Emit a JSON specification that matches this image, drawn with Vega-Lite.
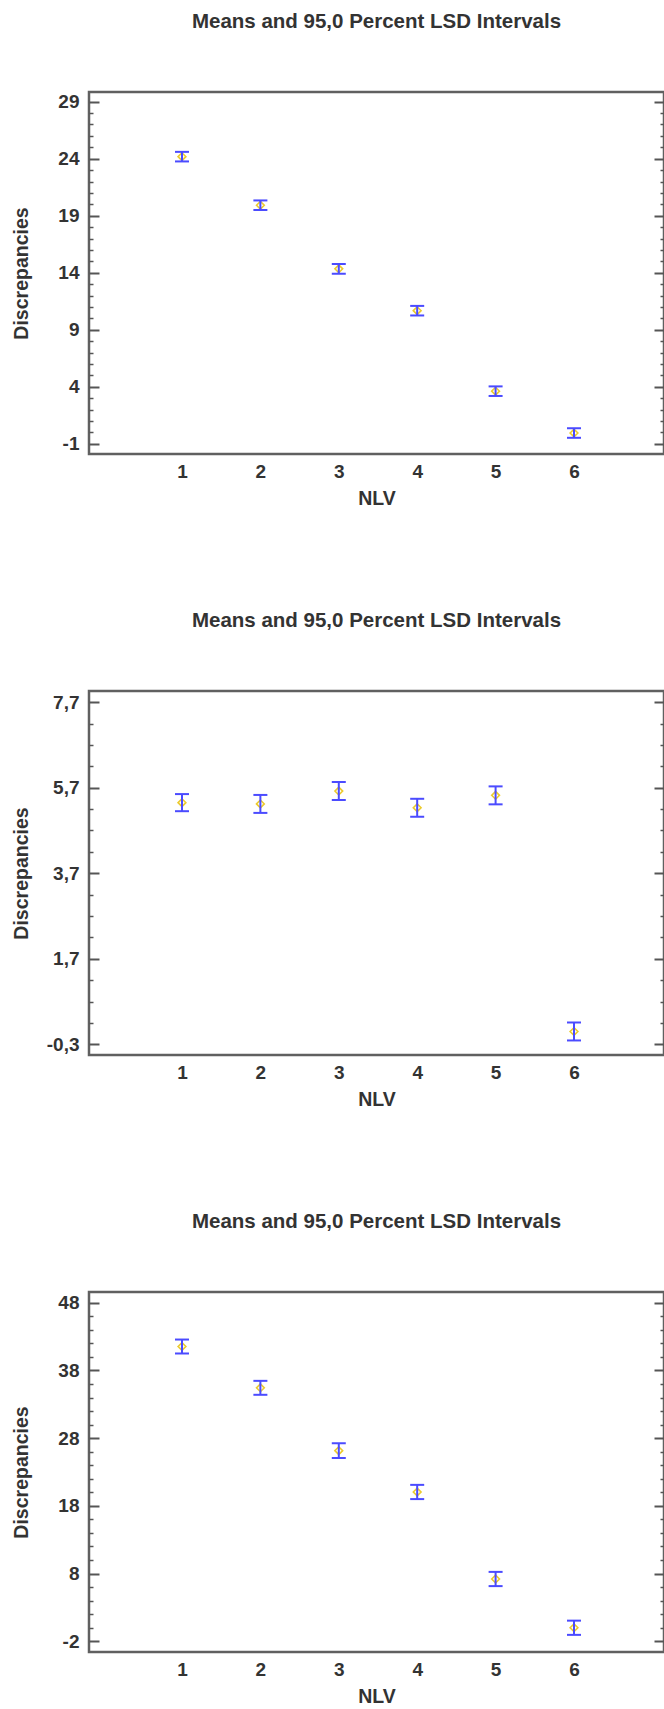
{
  "$schema": "https://vega.github.io/schema/vega-lite/v6.json",
  "padding": {"left": 9, "top": 10, "right": 0, "bottom": 0},
  "background": "white",
  "bounds": "flush",
  "spacing": 237,
  "config": {
    "font": "Liberation Sans",
    "view": {"stroke": "#606060", "strokeWidth": 2.5},
    "axis": {"grid": false}
  },
  "datasets": {
    "p1": [
      {"NLV": 1, "mean": 24.18, "lo": 23.76, "hi": 24.60},
      {"NLV": 2, "mean": 19.92, "lo": 19.50, "hi": 20.34},
      {"NLV": 3, "mean": 14.34, "lo": 13.92, "hi": 14.76},
      {"NLV": 4, "mean": 10.67, "lo": 10.25, "hi": 11.09},
      {"NLV": 5, "mean": 3.61, "lo": 3.19, "hi": 4.03},
      {"NLV": 6, "mean": -0.06, "lo": -0.48, "hi": 0.36}
    ],
    "p2": [
      {"NLV": 1, "mean": 5.35, "lo": 5.15, "hi": 5.55},
      {"NLV": 2, "mean": 5.32, "lo": 5.11, "hi": 5.53},
      {"NLV": 3, "mean": 5.62, "lo": 5.41, "hi": 5.83},
      {"NLV": 4, "mean": 5.23, "lo": 5.02, "hi": 5.44},
      {"NLV": 5, "mean": 5.52, "lo": 5.31, "hi": 5.73},
      {"NLV": 6, "mean": 0.0, "lo": -0.21, "hi": 0.21}
    ],
    "p3": [
      {"NLV": 1, "mean": 41.53, "lo": 40.50, "hi": 42.56},
      {"NLV": 2, "mean": 35.43, "lo": 34.40, "hi": 36.46},
      {"NLV": 3, "mean": 26.15, "lo": 25.07, "hi": 27.23},
      {"NLV": 4, "mean": 20.05, "lo": 19.00, "hi": 21.10},
      {"NLV": 5, "mean": 7.20, "lo": 6.15, "hi": 8.25},
      {"NLV": 6, "mean": 0.0, "lo": -1.05, "hi": 1.05}
    ]
  },
  "vconcat": [
    {
      "title": {"text": "Means and 95,0 Percent LSD Intervals", "fontSize": 20.5, "fontWeight": "bold", "color": "#333333", "frame": "group", "anchor": "middle", "baseline": "alphabetic", "offset": 44},
      "width": 575, "height": 362,
      "data": {"name": "p1"},
      "resolve": {"axis": {"y": "independent"}},
      "encoding": {
        "x": {"field": "NLV", "type": "quantitative", "scale": {"domain": [-0.186, 7.148], "nice": false, "zero": false},
          "axis": {"values": [1,2,3,4,5,6], "format": "d", "ticks": false, "domain": false, "labelFontSize": 19, "labelFontWeight": "bold", "labelColor": "#333333", "labelPadding": 8, "title": "NLV", "titleFontSize": 19.5, "titleFontWeight": "bold", "titleColor": "#333333", "titlePadding": 8}}
      },
      "layer": [
        {"mark": {"type": "point", "shape": "diamond", "filled": false, "size": 60, "stroke": "#eccb2e", "strokeWidth": 1.6, "opacity": 1},
         "encoding": {"y": {"field": "mean", "type": "quantitative", "scale": {"domain": [-1.9, 29.85], "nice": false, "zero": false},
           "axis": {"orient": "left", "values": [-1,4,9,14,19,24,29], "offset": -10, "tickSize": 10, "tickWidth": 2, "tickColor": "#555555", "domain": false, "labelFontSize": 19, "labelFontWeight": "bold", "labelColor": "#333333", "labelPadding": 10, "labelExpr": "(datum.value < 0 ? '-' : '') + format(abs(datum.value), 'd')", "title": "Discrepancies", "titleFontSize": 19.5, "titleFontWeight": "bold", "titleColor": "#333333", "titleX": -72, "titleY": 181, "titleAngle": -90, "titleAlign": "center", "titleBaseline": "alphabetic"}}}},
        {"mark": {"type": "rule", "color": "#4b4bff", "strokeWidth": 2},
         "encoding": {"y": {"field": "lo", "type": "quantitative", "scale": {"domain": [-1.9, 29.85], "nice": false, "zero": false},
           "axis": {"orient": "left", "values": [0,1,2,3,5,6,7,8,10,11,12,13,15,16,17,18,20,21,22,23,25,26,27,28], "offset": -4, "tickSize": 4, "tickWidth": 1.5, "tickColor": "#555555", "domain": false, "labels": false, "title": null}},
           "y2": {"field": "hi"}}},
        {"mark": {"type": "tick", "orient": "horizontal", "size": 14, "thickness": 2, "color": "#4b4bff", "opacity": 1},
         "encoding": {"y": {"field": "lo", "type": "quantitative", "scale": {"domain": [-1.9, 29.85], "nice": false, "zero": false},
           "axis": {"orient": "right", "values": [-1,4,9,14,19,24,29], "offset": -10, "tickSize": 10, "tickWidth": 2, "tickColor": "#555555", "domain": false, "labels": false, "title": null}}}},
        {"mark": {"type": "tick", "orient": "horizontal", "size": 14, "thickness": 2, "color": "#4b4bff", "opacity": 1},
         "encoding": {"y": {"field": "hi", "type": "quantitative", "scale": {"domain": [-1.9, 29.85], "nice": false, "zero": false},
           "axis": {"orient": "right", "values": [0,1,2,3,5,6,7,8,10,11,12,13,15,16,17,18,20,21,22,23,25,26,27,28], "offset": -4, "tickSize": 4, "tickWidth": 1.5, "tickColor": "#555555", "domain": false, "labels": false, "title": null}}}}
      ]
    },
    {
      "title": {"text": "Means and 95,0 Percent LSD Intervals", "fontSize": 20.5, "fontWeight": "bold", "color": "#333333", "frame": "group", "anchor": "middle", "baseline": "alphabetic", "offset": 44},
      "width": 575, "height": 364,
      "data": {"name": "p2"},
      "resolve": {"axis": {"y": "independent"}},
      "encoding": {
        "x": {"field": "NLV", "type": "quantitative", "scale": {"domain": [-0.186, 7.148], "nice": false, "zero": false},
          "axis": {"values": [1,2,3,4,5,6], "format": "d", "ticks": false, "domain": false, "labelFontSize": 19, "labelFontWeight": "bold", "labelColor": "#333333", "labelPadding": 8, "title": "NLV", "titleFontSize": 19.5, "titleFontWeight": "bold", "titleColor": "#333333", "titlePadding": 8}}
      },
      "layer": [
        {"mark": {"type": "point", "shape": "diamond", "filled": false, "size": 60, "stroke": "#eccb2e", "strokeWidth": 1.6, "opacity": 1},
         "encoding": {"y": {"field": "mean", "type": "quantitative", "scale": {"domain": [-0.55, 7.96], "nice": false, "zero": false},
           "axis": {"orient": "left", "values": [-0.3,1.7,3.7,5.7,7.7], "offset": -10, "tickSize": 10, "tickWidth": 2, "tickColor": "#555555", "domain": false, "labelFontSize": 19, "labelFontWeight": "bold", "labelColor": "#333333", "labelPadding": 10, "labelExpr": "(datum.value < 0 ? '-' : '') + replace(format(abs(datum.value), '.1f'), '.', ',')", "title": "Discrepancies", "titleFontSize": 19.5, "titleFontWeight": "bold", "titleColor": "#333333", "titleX": -72, "titleY": 182, "titleAngle": -90, "titleAlign": "center", "titleBaseline": "alphabetic"}}}},
        {"mark": {"type": "rule", "color": "#4b4bff", "strokeWidth": 2},
         "encoding": {"y": {"field": "lo", "type": "quantitative", "scale": {"domain": [-0.55, 7.96], "nice": false, "zero": false},
           "axis": {"orient": "left", "values": [0.2,0.7,1.2,2.2,2.7,3.2,4.2,4.7,5.2,6.2,6.7,7.2], "offset": -4, "tickSize": 4, "tickWidth": 1.5, "tickColor": "#555555", "domain": false, "labels": false, "title": null}},
           "y2": {"field": "hi"}}},
        {"mark": {"type": "tick", "orient": "horizontal", "size": 14, "thickness": 2, "color": "#4b4bff", "opacity": 1},
         "encoding": {"y": {"field": "lo", "type": "quantitative", "scale": {"domain": [-0.55, 7.96], "nice": false, "zero": false},
           "axis": {"orient": "right", "values": [-0.3,1.7,3.7,5.7,7.7], "offset": -10, "tickSize": 10, "tickWidth": 2, "tickColor": "#555555", "domain": false, "labels": false, "title": null}}}},
        {"mark": {"type": "tick", "orient": "horizontal", "size": 14, "thickness": 2, "color": "#4b4bff", "opacity": 1},
         "encoding": {"y": {"field": "hi", "type": "quantitative", "scale": {"domain": [-0.55, 7.96], "nice": false, "zero": false},
           "axis": {"orient": "right", "values": [0.2,0.7,1.2,2.2,2.7,3.2,4.2,4.7,5.2,6.2,6.7,7.2], "offset": -4, "tickSize": 4, "tickWidth": 1.5, "tickColor": "#555555", "domain": false, "labels": false, "title": null}}}}
      ]
    },
    {
      "title": {"text": "Means and 95,0 Percent LSD Intervals", "fontSize": 20.5, "fontWeight": "bold", "color": "#333333", "frame": "group", "anchor": "middle", "baseline": "alphabetic", "offset": 44},
      "width": 575, "height": 360,
      "data": {"name": "p3"},
      "resolve": {"axis": {"y": "independent"}},
      "encoding": {
        "x": {"field": "NLV", "type": "quantitative", "scale": {"domain": [-0.186, 7.148], "nice": false, "zero": false},
          "axis": {"values": [1,2,3,4,5,6], "format": "d", "ticks": false, "domain": false, "labelFontSize": 19, "labelFontWeight": "bold", "labelColor": "#333333", "labelPadding": 8, "title": "NLV", "titleFontSize": 19.5, "titleFontWeight": "bold", "titleColor": "#333333", "titlePadding": 8}}
      },
      "layer": [
        {"mark": {"type": "point", "shape": "diamond", "filled": false, "size": 60, "stroke": "#eccb2e", "strokeWidth": 1.6, "opacity": 1},
         "encoding": {"y": {"field": "mean", "type": "quantitative", "scale": {"domain": [-3.58, 49.58], "nice": false, "zero": false},
           "axis": {"orient": "left", "values": [-2,8,18,28,38,48], "offset": -10, "tickSize": 10, "tickWidth": 2, "tickColor": "#555555", "domain": false, "labelFontSize": 19, "labelFontWeight": "bold", "labelColor": "#333333", "labelPadding": 10, "labelExpr": "(datum.value < 0 ? '-' : '') + format(abs(datum.value), 'd')", "title": "Discrepancies", "titleFontSize": 19.5, "titleFontWeight": "bold", "titleColor": "#333333", "titleX": -72, "titleY": 180, "titleAngle": -90, "titleAlign": "center", "titleBaseline": "alphabetic"}}}},
        {"mark": {"type": "rule", "color": "#4b4bff", "strokeWidth": 2},
         "encoding": {"y": {"field": "lo", "type": "quantitative", "scale": {"domain": [-3.58, 49.58], "nice": false, "zero": false},
           "axis": {"orient": "left", "values": [0,2,4,6,10,12,14,16,20,22,24,26,30,32,34,36,40,42,44,46], "offset": -4, "tickSize": 4, "tickWidth": 1.5, "tickColor": "#555555", "domain": false, "labels": false, "title": null}},
           "y2": {"field": "hi"}}},
        {"mark": {"type": "tick", "orient": "horizontal", "size": 14, "thickness": 2, "color": "#4b4bff", "opacity": 1},
         "encoding": {"y": {"field": "lo", "type": "quantitative", "scale": {"domain": [-3.58, 49.58], "nice": false, "zero": false},
           "axis": {"orient": "right", "values": [-2,8,18,28,38,48], "offset": -10, "tickSize": 10, "tickWidth": 2, "tickColor": "#555555", "domain": false, "labels": false, "title": null}}}},
        {"mark": {"type": "tick", "orient": "horizontal", "size": 14, "thickness": 2, "color": "#4b4bff", "opacity": 1},
         "encoding": {"y": {"field": "hi", "type": "quantitative", "scale": {"domain": [-3.58, 49.58], "nice": false, "zero": false},
           "axis": {"orient": "right", "values": [0,2,4,6,10,12,14,16,20,22,24,26,30,32,34,36,40,42,44,46], "offset": -4, "tickSize": 4, "tickWidth": 1.5, "tickColor": "#555555", "domain": false, "labels": false, "title": null}}}}
      ]
    }
  ]
}
